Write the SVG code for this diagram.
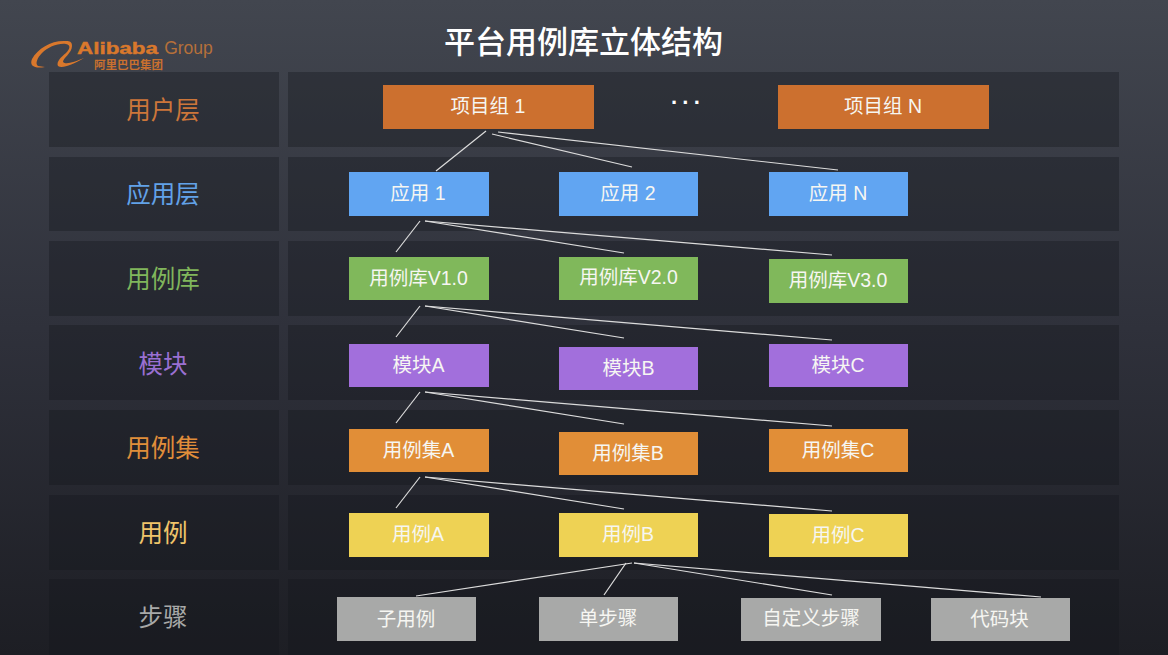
<svg xmlns="http://www.w3.org/2000/svg" width="1168" height="655" viewBox="0 0 1168 655">
<style>
text{font-family:"Liberation Sans","Noto Sans CJK SC",sans-serif;text-anchor:middle}
.band{fill:#14151c;fill-opacity:.36}
.lab{font-size:24.500px;font-family:"Noto Sans CJK SC",sans-serif}
.n{font-size:19.500px;fill:#f6f6f2}
.c line{stroke:#dcdcdc;stroke-width:1.2}
.org{fill:#cc702f}.blu{fill:#61a5f2}.grn{fill:#80b85b}.pur{fill:#a26fdc}.amb{fill:#e18e37}.yel{fill:#eed254}.gry{fill:#a8a9a8}
</style>
<defs><linearGradient id="bg" x1="0" y1="0" x2="0" y2="1"><stop offset="0" stop-color="#42464f"/><stop offset=".5" stop-color="#2f313b"/><stop offset="1" stop-color="#1d1e24"/></linearGradient></defs>
<rect width="1168" height="655" fill="url(#bg)"/>
<g id="bands">
<rect class="band" x="49" y="72" width="230" height="75"/><rect class="band" x="288" y="72" width="831" height="75"/>
<rect class="band" x="49" y="157" width="230" height="74"/><rect class="band" x="288" y="157" width="831" height="74"/>
<rect class="band" x="49" y="241" width="230" height="75"/><rect class="band" x="288" y="241" width="831" height="75"/>
<rect class="band" x="49" y="325" width="230" height="75"/><rect class="band" x="288" y="325" width="831" height="75"/>
<rect class="band" x="49" y="410" width="230" height="75"/><rect class="band" x="288" y="410" width="831" height="75"/>
<rect class="band" x="49" y="495" width="230" height="75"/><rect class="band" x="288" y="495" width="831" height="75"/>
<rect class="band" x="49" y="579" width="230" height="76"/><rect class="band" x="288" y="579" width="831" height="76"/>
</g>
<g id="logo">
<path d="M66 41C52 40 38 48 32 59C29 66 35 69 45 67L38 66C35 64 37 58 42 53C48 47 58 43 66 44C71 45 70 49 66 53C61 57 56 62 58 66C62 69 72 65 84 58C74 62 66 65 63 62C63 58 72 53 72 46C72 42 70 41 66 41Z" fill="#d9782c"/>
<text x="77" y="54" textLength="81" lengthAdjust="spacingAndGlyphs" style="text-anchor:start;font-size:16px;font-weight:700;fill:#d9782c;stroke:#d9782c;stroke-width:.4">Alibaba</text>
<text x="188.500" y="54" style="font-size:17.500px;fill:#b5703a">Group</text>
<text x="128.500" y="69" style="font-size:11.500px;font-weight:700;fill:#c9702f;font-family:'Noto Sans CJK SC',sans-serif">阿里巴巴集团</text>
</g>
<text id="title" x="583.500" y="53" style="font-size:31px;font-weight:500;fill:#fff;font-family:'Noto Sans CJK SC',sans-serif">平台用例库立体结构</text>
<g id="layer-labels">
<text class="lab" x="163" y="119" fill="#cc763a">用户层</text>
<text class="lab" x="163" y="203" fill="#62a2e8">应用层</text>
<text class="lab" x="163" y="288" fill="#80b65c">用例库</text>
<text class="lab" x="163" y="373" fill="#9a70d2">模块</text>
<text class="lab" x="163" y="457" fill="#e08e3a">用例集</text>
<text class="lab" x="163" y="542" fill="#f0c46a">用例</text>
<text class="lab" x="163" y="626" fill="#a8a9a8">步骤</text>
</g>
<g id="connectors" class="c">
<line x1="486" y1="131" x2="436" y2="171"/><line x1="492" y1="134" x2="632" y2="167"/><line x1="498" y1="132" x2="838" y2="170"/>
<line x1="420" y1="221" x2="396" y2="252"/><line x1="425" y1="221" x2="624" y2="253"/><line x1="425" y1="221" x2="832" y2="255"/>
<line x1="420" y1="306" x2="396" y2="337"/><line x1="425" y1="306" x2="624" y2="338"/><line x1="425" y1="306" x2="832" y2="340"/>
<line x1="420" y1="392" x2="396" y2="423"/><line x1="425" y1="392" x2="624" y2="424"/><line x1="425" y1="392" x2="832" y2="426"/>
<line x1="420" y1="477" x2="396" y2="508"/><line x1="425" y1="477" x2="624" y2="509"/><line x1="425" y1="477" x2="832" y2="511"/>
<line x1="632" y1="563" x2="416" y2="596"/><line x1="626" y1="563" x2="604" y2="595"/><line x1="634" y1="563" x2="832" y2="595"/><line x1="634" y1="563" x2="1041" y2="597"/>
</g>
<g id="n-group1"><rect class="org" x="383" y="85" width="211" height="44"/><text class="n" x="488" y="113">项目组 1</text></g>
<g id="n-dots"><text x="688" y="110" style="font-size:22px;font-weight:700;fill:#fff;letter-spacing:4px">···</text></g>
<g id="n-groupN"><rect class="org" x="778" y="85" width="211" height="44"/><text class="n" x="883" y="113">项目组 N</text></g>
<g id="n-app1"><rect class="blu" x="349" y="172" width="140" height="44"/><text class="n" x="418" y="200">应用 1</text></g>
<g id="n-app2"><rect class="blu" x="559" y="172" width="139" height="44"/><text class="n" x="628" y="200">应用 2</text></g>
<g id="n-appN"><rect class="blu" x="769" y="172" width="139" height="44"/><text class="n" x="838" y="200">应用 N</text></g>
<g id="n-lib1"><rect class="grn" x="349" y="257" width="140" height="43"/><text class="n" x="418.500" y="285">用例库V1.0</text></g>
<g id="n-lib2"><rect class="grn" x="559" y="257" width="139" height="43"/><text class="n" x="628.500" y="284">用例库V2.0</text></g>
<g id="n-lib3"><rect class="grn" x="769" y="259" width="139" height="44"/><text class="n" x="838" y="287">用例库V3.0</text></g>
<g id="n-modA"><rect class="pur" x="349" y="344" width="140" height="43"/><text class="n" x="418.500" y="372">模块A</text></g>
<g id="n-modB"><rect class="pur" x="559" y="347" width="139" height="43"/><text class="n" x="628.500" y="375">模块B</text></g>
<g id="n-modC"><rect class="pur" x="769" y="344" width="139" height="43"/><text class="n" x="838" y="372">模块C</text></g>
<g id="n-setA"><rect class="amb" x="349" y="429" width="140" height="43"/><text class="n" x="418.500" y="457">用例集A</text></g>
<g id="n-setB"><rect class="amb" x="559" y="432" width="139" height="43"/><text class="n" x="628" y="460">用例集B</text></g>
<g id="n-setC"><rect class="amb" x="769" y="429" width="139" height="43"/><text class="n" x="838" y="457">用例集C</text></g>
<g id="n-caseA"><rect class="yel" x="349" y="513" width="140" height="44"/><text class="n" x="418" y="541">用例A</text></g>
<g id="n-caseB"><rect class="yel" x="559" y="513" width="139" height="44"/><text class="n" x="628" y="541">用例B</text></g>
<g id="n-caseC"><rect class="yel" x="769" y="514" width="139" height="43"/><text class="n" x="838" y="542">用例C</text></g>
<g id="n-sub"><rect class="gry" x="337" y="597" width="139" height="44"/><text class="n" x="406" y="626">子用例</text></g>
<g id="n-step"><rect class="gry" x="539" y="597" width="139" height="44"/><text class="n" x="608" y="625">单步骤</text></g>
<g id="n-custom"><rect class="gry" x="741" y="598" width="140" height="43"/><text class="n" x="811" y="625">自定义步骤</text></g>
<g id="n-code"><rect class="gry" x="931" y="598" width="139" height="43"/><text class="n" x="999.500" y="626">代码块</text></g>
</svg>
